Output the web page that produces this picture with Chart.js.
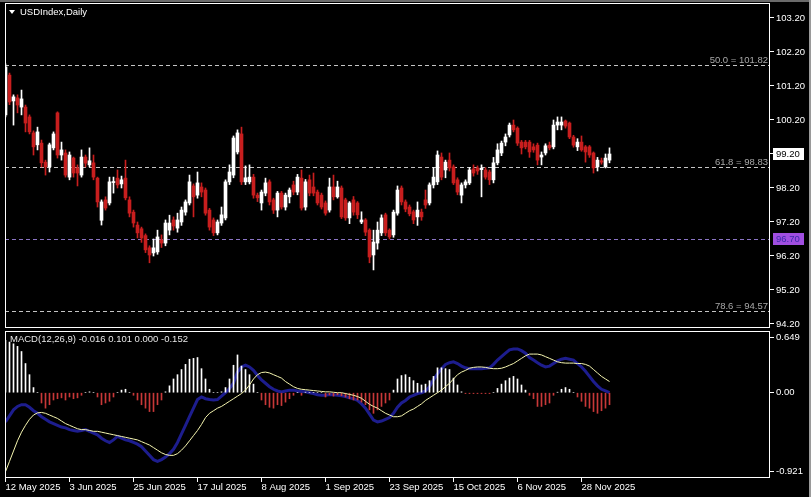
<!DOCTYPE html>
<html><head><meta charset="utf-8">
<script src="https://cdn.jsdelivr.net/npm/chart.js@4.4.1/dist/chart.umd.min.js"></script>
<style>
html,body{margin:0;padding:0;background:#000;}
#wrap{position:relative;width:811px;height:497px;overflow:hidden;background:#000;}
#c1{position:absolute;left:0;top:0;}
#c2{position:absolute;left:0;top:329px;}
#edgeR{position:absolute;left:809px;top:0;width:2px;height:497px;background:#9a9a9a;}
#edgeT{position:absolute;left:0;top:0;width:811px;height:2px;background:#6a6a6a;}
</style></head><body>
<div id="wrap">
<canvas id="c1" width="811" height="330"></canvas>
<canvas id="c2" width="811" height="168"></canvas>
<div id="edgeT"></div><div id="edgeR"></div>
</div>
<script>
// ---- data ----
const opens = [100.35,101.52,100.76,100.85,100.58,100.58,100.29,99.82,99.47,99.52,98.96,98.82,99.38,100.41,99.17,99.23,98.52,99.08,98.79,98.58,99.11,98.88,98.94,98.49,97.25,97.85,97.76,98.36,98.49,98.32,98.49,97.85,97.49,97.11,97.00,96.80,96.44,96.29,96.32,96.67,96.58,96.96,97.26,97.02,97.20,97.49,97.76,98.26,97.99,98.23,98.14,97.55,97.26,96.88,97.17,97.32,98.38,98.58,99.26,99.79,98.38,98.38,98.52,97.99,97.76,98.05,98.38,97.85,97.55,98.05,97.64,97.94,98.29,98.08,98.49,97.64,98.44,98.23,98.08,97.99,97.76,97.55,98.23,97.94,98.20,97.85,97.32,97.85,97.76,97.20,97.26,96.96,96.23,96.58,96.88,97.41,96.96,96.82,97.46,98.20,97.79,97.64,97.50,97.35,97.49,97.85,97.76,98.29,98.38,99.11,98.73,99.02,98.82,98.44,97.99,98.29,98.35,98.76,98.79,98.74,98.73,98.67,98.44,98.94,99.23,99.55,99.76,100.05,99.96,99.55,99.55,99.55,99.41,99.46,99.11,99.23,99.46,99.41,100.05,100.05,100.17,100.11,99.70,99.41,99.55,99.41,99.41,99.23,98.82,99.00,98.82,99.02];
const highs = [101.85,101.58,100.94,100.94,101.08,100.64,100.35,99.88,99.99,99.61,99.02,99.52,99.85,100.44,99.55,99.32,99.26,99.11,98.88,99.32,99.17,99.38,99.17,98.52,97.85,97.94,98.52,98.52,98.73,98.55,99.02,97.94,97.55,97.20,97.05,96.85,96.50,96.70,96.96,96.82,97.26,97.40,97.35,97.46,97.64,97.85,98.58,98.32,98.67,98.35,98.20,97.60,97.32,97.26,97.64,98.44,98.88,99.73,99.91,99.99,98.85,98.88,98.60,98.05,98.14,98.49,98.44,97.90,98.10,98.10,98.05,98.20,98.40,98.60,98.73,98.45,98.58,98.64,98.14,98.05,97.82,98.49,98.58,98.40,98.26,97.90,97.80,97.95,97.80,97.50,97.30,97.00,96.96,97.20,97.41,97.46,97.00,97.55,98.26,98.26,97.85,97.70,97.55,97.79,97.58,98.14,98.35,98.80,99.29,99.23,99.02,99.23,98.88,98.50,98.35,98.44,98.80,98.88,98.85,98.88,98.80,98.73,99.10,99.50,99.58,99.79,100.11,100.20,100.00,99.60,99.60,99.60,99.50,99.52,99.26,99.50,99.55,100.20,100.29,100.29,100.20,100.14,99.75,99.65,99.73,99.45,99.45,99.26,99.10,99.08,99.20,99.38];
const lows = [100.29,100.65,100.05,100.41,100.35,99.85,99.79,99.17,99.32,98.82,98.58,98.67,99.32,99.08,99.02,98.52,98.44,98.52,98.26,98.52,98.82,98.82,98.44,97.64,97.11,97.55,97.70,98.05,98.20,98.20,97.85,97.35,97.05,96.73,96.60,96.30,96.00,96.20,96.25,96.45,96.50,96.82,96.96,96.90,97.10,97.40,97.70,97.35,97.90,97.94,97.40,96.96,96.80,96.82,97.10,97.26,98.30,98.50,99.20,98.30,98.30,98.32,97.90,97.80,97.55,97.97,97.70,97.45,97.35,97.58,97.55,97.76,98.00,98.00,97.55,97.55,97.97,97.97,97.70,97.58,97.40,97.49,97.85,97.90,97.30,97.25,97.15,97.40,97.30,97.15,96.80,96.00,95.79,96.40,96.80,96.80,96.70,96.75,97.40,97.70,97.50,97.38,97.15,97.10,97.25,97.60,97.70,98.20,98.30,98.44,98.50,98.70,98.30,98.00,97.76,98.20,98.30,98.55,98.60,97.94,98.46,98.30,98.35,98.88,99.15,99.44,99.70,99.85,99.45,99.20,99.35,99.10,99.25,98.88,98.88,99.17,99.32,99.35,99.91,99.91,99.96,99.65,99.40,99.30,99.28,98.96,99.10,98.64,98.70,98.90,98.79,98.94];
const closes = [101.76,100.73,100.88,100.64,100.82,100.11,99.85,99.41,99.85,98.94,98.82,99.47,99.79,99.17,99.32,98.58,99.17,98.64,98.64,99.11,98.93,99.00,98.52,97.79,97.79,97.61,98.38,98.38,98.29,98.44,97.91,97.46,97.17,96.88,96.73,96.38,96.23,96.44,96.76,96.58,97.17,97.17,97.08,97.26,97.55,97.79,98.38,97.94,98.35,98.08,97.46,97.05,96.88,97.20,97.41,98.38,98.67,99.67,99.82,98.38,98.50,98.52,97.99,97.91,98.08,98.35,97.79,97.55,98.05,97.64,97.99,98.14,98.08,98.52,97.61,98.38,98.05,98.05,97.76,97.64,97.46,98.23,97.94,98.23,97.35,97.32,97.76,97.49,97.41,97.26,96.90,96.17,96.61,96.96,97.32,96.88,96.76,97.49,98.14,97.79,97.58,97.44,97.26,97.55,97.35,97.70,98.29,98.52,99.17,98.52,98.96,98.79,98.35,98.08,98.29,98.38,98.73,98.64,98.70,98.78,98.52,98.44,98.94,99.32,99.52,99.70,100.05,99.91,99.52,99.38,99.41,99.26,99.32,99.02,99.17,99.44,99.38,100.05,100.14,100.14,100.02,99.70,99.46,99.55,99.32,99.26,99.17,98.79,99.02,98.96,99.08,99.20];

const macdMain = [-0.34,-0.27,-0.20,-0.16,-0.14,-0.14,-0.17,-0.21,-0.24,-0.28,-0.31,-0.34,-0.36,-0.38,-0.40,-0.41,-0.43,-0.44,-0.45,-0.44,-0.43,-0.45,-0.47,-0.49,-0.53,-0.56,-0.58,-0.55,-0.51,-0.53,-0.55,-0.56,-0.58,-0.60,-0.63,-0.68,-0.73,-0.78,-0.80,-0.78,-0.75,-0.71,-0.66,-0.58,-0.48,-0.38,-0.28,-0.18,-0.08,-0.05,-0.07,-0.08,-0.085,-0.08,-0.04,0.00,0.05,0.11,0.24,0.30,0.32,0.30,0.26,0.20,0.15,0.11,0.07,0.04,0.02,0.01,0.02,0.03,0.03,0.02,0.015,0.01,0.00,-0.01,-0.025,-0.03,-0.03,-0.02,-0.025,-0.03,-0.035,-0.045,-0.06,-0.07,-0.09,-0.13,-0.18,-0.25,-0.32,-0.34,-0.33,-0.31,-0.29,-0.24,-0.17,-0.12,-0.09,-0.05,-0.03,-0.01,0.00,0.02,0.07,0.15,0.22,0.28,0.33,0.35,0.36,0.34,0.31,0.29,0.28,0.28,0.28,0.28,0.285,0.29,0.33,0.38,0.42,0.46,0.50,0.51,0.51,0.49,0.46,0.41,0.38,0.35,0.32,0.30,0.31,0.34,0.37,0.39,0.40,0.39,0.38,0.34,0.30,0.25,0.19,0.13,0.08,0.04,0.02,0.00];
const macdSignal = [-0.92,-0.80,-0.68,-0.56,-0.46,-0.38,-0.31,-0.26,-0.235,-0.23,-0.24,-0.26,-0.28,-0.30,-0.33,-0.36,-0.38,-0.40,-0.42,-0.43,-0.43,-0.44,-0.45,-0.45,-0.46,-0.47,-0.48,-0.49,-0.50,-0.51,-0.52,-0.53,-0.54,-0.55,-0.57,-0.59,-0.61,-0.64,-0.67,-0.70,-0.72,-0.73,-0.73,-0.71,-0.67,-0.62,-0.56,-0.50,-0.44,-0.37,-0.29,-0.24,-0.21,-0.18,-0.16,-0.13,-0.10,-0.07,-0.04,-0.01,0.03,0.09,0.16,0.21,0.235,0.24,0.23,0.21,0.19,0.17,0.13,0.10,0.07,0.05,0.04,0.035,0.03,0.025,0.02,0.015,0.01,0.01,0.005,0.00,0.00,-0.01,-0.02,-0.03,-0.045,-0.065,-0.10,-0.135,-0.16,-0.18,-0.21,-0.24,-0.26,-0.28,-0.28,-0.27,-0.24,-0.21,-0.19,-0.16,-0.13,-0.09,-0.06,-0.03,0.00,0.03,0.07,0.11,0.16,0.21,0.24,0.26,0.285,0.295,0.30,0.30,0.295,0.285,0.28,0.28,0.285,0.30,0.32,0.34,0.37,0.40,0.43,0.45,0.45,0.45,0.44,0.42,0.40,0.38,0.36,0.35,0.345,0.345,0.345,0.34,0.34,0.33,0.31,0.27,0.23,0.19,0.16,0.13];
const macdHist = [0.61,0.59,0.57,0.54,0.48,0.34,0.21,0.06,0.00,-0.12,-0.18,-0.14,-0.085,-0.07,-0.06,-0.085,-0.05,-0.07,-0.06,-0.03,0.00,0.01,0.00,-0.05,-0.14,-0.12,-0.10,-0.05,0.00,0.03,0.04,0.00,-0.03,-0.085,-0.14,-0.18,-0.22,-0.22,-0.14,-0.085,0.01,0.08,0.16,0.21,0.27,0.33,0.39,0.40,0.41,0.28,0.16,0.04,0.00,0.00,0.01,0.06,0.16,0.32,0.44,0.31,0.27,0.21,0.10,0.00,-0.085,-0.14,-0.17,-0.18,-0.14,-0.15,-0.11,-0.07,-0.03,0.00,-0.03,0.005,0.00,0.00,0.00,0.00,-0.05,-0.025,-0.04,-0.025,-0.035,-0.05,-0.07,-0.085,-0.085,-0.11,-0.14,-0.20,-0.24,-0.20,-0.16,-0.12,-0.085,0.03,0.16,0.20,0.21,0.18,0.14,0.11,0.09,0.10,0.14,0.19,0.29,0.29,0.28,0.27,0.17,0.09,0.01,-0.01,-0.01,-0.01,-0.01,-0.01,-0.01,-0.01,0.00,0.05,0.10,0.14,0.17,0.19,0.16,0.09,0.03,-0.03,-0.07,-0.16,-0.16,-0.14,-0.12,-0.03,0.005,0.04,0.06,0.04,0.00,-0.05,-0.10,-0.16,-0.18,-0.22,-0.24,-0.21,-0.18,-0.14];

const priceTicks = [94.2,95.2,96.2,97.2,98.2,99.2,100.2,101.2,102.2,103.2];
const macdTicks = [-0.921, 0, 0.649];
const macdTickLabels = ['-0.921', '0.00', '0.649'];
const xTickIdx = [0,16,32,48,64,80,96,112,128,144];
const xTickLabels = ['12 May 2025','3 Jun 2025','25 Jun 2025','17 Jul 2025','8 Aug 2025','1 Sep 2025','23 Sep 2025','15 Oct 2025','6 Nov 2025','28 Nov 2025'];
const fibLevels = [101.82, 98.83, 94.57];
const fibLabels = ['50.0 = 101.82', '61.8 = 98.83', '78.6 = 94.57'];
const supportLevel = 96.70;
const lastPrice = 99.20;
const titleText = 'USDIndex,Daily';
const macdLabel = 'MACD(12,26,9) -0.016 0.101 0.000 -0.152';

// ---- rendering ----
const FAM = '"Liberation Sans", Arial, sans-serif';
const FS = 9.5;
const TF = {family: FAM, size: FS};
const BULL = '#ffffff', BEAR = '#c81e1e';
const xMin = -0.125, xMax = xMin + 765 / 4;
const candleColors = opens.map((o, i) => closes[i] >= o ? BULL : BEAR);

function fixAxis(w, h) {
  return s => {
    if (w !== null) s.width = w;
    if (h !== null) s.height = h;
    s.paddingTop = 0; s.paddingBottom = 0; s.paddingLeft = 0; s.paddingRight = 0;
  };
}
function frame(chart) {
  const {ctx, chartArea: ca} = chart;
  ctx.save();
  ctx.strokeStyle = '#ffffff'; ctx.lineWidth = 1; ctx.setLineDash([]);
  ctx.strokeRect(Math.round(ca.left) + 0.5, Math.round(ca.top) + 0.5,
    Math.round(ca.right - ca.left) - 1, Math.round(ca.bottom - ca.top) - 1);
  ctx.restore();
}
function hline(ctx, x1, x2, y) { ctx.beginPath(); ctx.moveTo(x1, y); ctx.lineTo(x2, y); ctx.stroke(); }

const overlay1 = {
  id: 'ov1',
  beforeDatasetsDraw(chart) {
    const {ctx, chartArea: ca, scales: {y}} = chart;
    ctx.save();
    ctx.lineWidth = 1; ctx.setLineDash([4, 3]);
    ctx.strokeStyle = '#c4c4c4';
    fibLevels.forEach(v => hline(ctx, ca.left, ca.right, Math.round(y.getPixelForValue(v)) + 0.5));
    ctx.strokeStyle = '#8a74c4';
    hline(ctx, ca.left, ca.right, Math.round(y.getPixelForValue(supportLevel)) + 0.5);
    ctx.restore();
  },
  afterDraw(chart) {
    const {ctx, chartArea: ca, scales: {y}} = chart;
    frame(chart);
    ctx.save();
    ctx.font = FS + 'px ' + FAM;
    ctx.fillStyle = '#a8a8a8'; ctx.textAlign = 'right'; ctx.textBaseline = 'alphabetic';
    fibLevels.forEach((v, k) => ctx.fillText(fibLabels[k], ca.right - 2, Math.round(y.getPixelForValue(v)) - 2));
    ctx.fillStyle = '#ffffff';
    ctx.beginPath(); ctx.moveTo(9, 10); ctx.lineTo(15, 10); ctx.lineTo(12, 14); ctx.closePath(); ctx.fill();
    ctx.textAlign = 'left'; ctx.textBaseline = 'middle';
    ctx.fillText(titleText, 20, 12.5);
    const box = (v, bg, fg) => {
      const py = Math.round(y.getPixelForValue(v));
      ctx.fillStyle = bg; ctx.fillRect(773, py - 6, 31, 12);
      ctx.fillStyle = fg; ctx.textAlign = 'left'; ctx.textBaseline = 'middle';
      ctx.fillText(v.toFixed(2), 776, py + 0.5);
    };
    box(lastPrice, '#ffffff', '#000000');
    box(supportLevel, '#a04ee0', '#3a2aa8');
    ctx.restore();
  }
};

new Chart(document.getElementById('c1'), {
  type: 'bar',
  data: {
    datasets: [
      {label: 'body', data: opens.map((o, i) => ({x: i, y: [o, closes[i]]})),
        backgroundColor: candleColors, barThickness: 3, minBarLength: 1, grouped: false, borderWidth: 0},
      {label: 'wick', data: opens.map((o, i) => ({x: i, y: [lows[i], highs[i]]})),
        backgroundColor: candleColors, barThickness: 1, grouped: false, borderWidth: 0}
    ]
  },
  options: {
    responsive: false, animation: false, devicePixelRatio: 1,
    layout: {padding: {left: 5, top: 3, right: 0, bottom: 2}},
    plugins: {legend: {display: false}, tooltip: {enabled: false}},
    scales: {
      x: {type: 'linear', min: xMin, max: xMax, display: false, offset: false},
      y: {type: 'linear', position: 'right', min: 94.082, max: 103.641, beginAtZero: false,
        afterBuildTicks: s => { s.ticks = priceTicks.map(v => ({value: v})); },
        afterFit: fixAxis(41, null),
        ticks: {color: '#ffffff', font: TF, padding: 2, callback: v => Number(v).toFixed(2)},
        grid: {drawOnChartArea: false, drawTicks: true, tickLength: 4, tickColor: '#ffffff'},
        border: {display: false}}
    }
  },
  plugins: [overlay1]
});

const overlay2 = {
  id: 'ov2',
  afterDraw(chart) {
    const {ctx} = chart;
    frame(chart);
    ctx.save();
    ctx.font = FS + 'px ' + FAM;
    ctx.fillStyle = '#e6e6e6'; ctx.textAlign = 'left'; ctx.textBaseline = 'middle';
    ctx.fillText(macdLabel, 10, 10.5);
    ctx.restore();
  }
};

new Chart(document.getElementById('c2'), {
  type: 'bar',
  data: {
    datasets: [
      {type: 'line', label: 'signal', data: macdSignal.map((v, i) => ({x: i, y: v})),
        borderColor: '#f6f6b0', borderWidth: 1, pointRadius: 0, tension: 0},
      {type: 'bar', label: 'hist', data: macdHist.map((v, i) => ({x: i, y: v})),
        backgroundColor: macdHist.map(v => v >= 0 ? '#ffffff' : '#c83838'),
        barThickness: 1, grouped: false, borderWidth: 0},
      {type: 'line', label: 'macd', data: macdMain.map((v, i) => ({x: i, y: v})),
        borderColor: '#1d1d8e', borderWidth: 3, pointRadius: 0, tension: 0}
    ]
  },
  options: {
    responsive: false, animation: false, devicePixelRatio: 1,
    layout: {padding: {left: 5, top: 2, right: 0, bottom: 0}},
    plugins: {legend: {display: false}, tooltip: {enabled: false}},
    scales: {
      x: {type: 'linear', position: 'bottom', min: xMin, max: xMax, offset: false,
        afterBuildTicks: s => { s.ticks = xTickIdx.map(v => ({value: v})); },
        afterFit: fixAxis(null, 19),
        ticks: {color: '#ffffff', font: TF, padding: 0, align: 'start', autoSkip: false, maxRotation: 0, minRotation: 0,
          callback: (v, k) => xTickLabels[k]},
        grid: {drawOnChartArea: false, drawTicks: true, tickLength: 4, tickColor: '#ffffff', offset: false},
        border: {display: false}},
      y: {type: 'linear', position: 'right', min: -0.994, max: 0.719, beginAtZero: false,
        afterBuildTicks: s => { s.ticks = macdTicks.map(v => ({value: v})); },
        afterFit: fixAxis(41, null),
        ticks: {color: '#ffffff', font: TF, padding: 2, callback: (v, k) => macdTickLabels[k]},
        grid: {drawOnChartArea: false, drawTicks: true, tickLength: 4, tickColor: '#ffffff'},
        border: {display: false}}
    }
  },
  plugins: [overlay2]
});
</script>
</body></html>
